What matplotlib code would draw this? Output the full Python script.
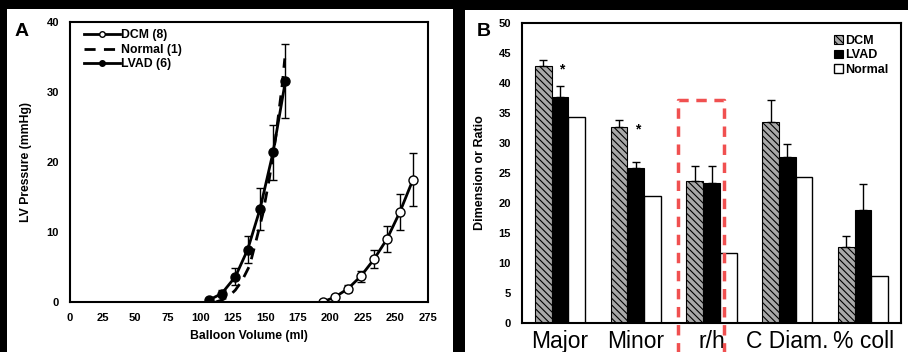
import matplotlib.pyplot as plt
import matplotlib.patches as mpatches
from matplotlib.lines import Line2D

plt.rcParams['font.family'] = ['Liberation Sans', 'DejaVu Sans']
plt.rcParams['hatch.linewidth'] = 0.8

# ---- panel A data: pressure-volume curves ----
dcm_vol = [194, 203.5, 213.5, 223.5, 233.5, 243.5, 253.5, 263.5]
dcm_p = [0.0, 0.7, 1.9, 3.7, 6.1, 9.0, 12.9, 17.5]
dcm_err = [0.2, 0.3, 0.5, 0.8, 1.3, 1.9, 2.6, 3.8]

lvad_vol = [106.5, 116.5, 127, 136.5, 146, 156, 165.5]
lvad_p = [0.25, 1.2, 3.6, 7.5, 13.3, 21.4, 31.6]
lvad_err = [0.2, 0.5, 1.2, 1.9, 3.0, 3.9, 5.3]

normal_vol = [112, 117, 122, 127, 132, 138, 143, 148, 153, 158, 163, 165]
normal_p = [0.0, 0.3, 0.8, 1.7, 3.0, 5.2, 8.8, 12.5, 17.5, 23.5, 31.0, 34.8]

# ---- panel B data: dimensions / ratios ----
groups = ['Major', 'Minor', 'r/h', 'C Diam.', '% coll']
dcm_vals = [42.9, 32.7, 23.6, 33.5, 12.6]
dcm_errs = [0.9, 1.2, 2.6, 3.6, 1.9]
lvad_vals = [37.6, 25.8, 23.3, 27.7, 18.8]
lvad_errs = [1.9, 1.0, 2.8, 2.1, 4.3]
normal_vals = [34.3, 21.2, 11.7, 24.4, 7.8]

W, H = 908, 352
fig = plt.figure(figsize=(W / 100, H / 100), dpi=100, facecolor='black')

# white panel backgrounds
fig.patches.append(mpatches.Rectangle((7 / W, 0), 446 / W, 343 / H, transform=fig.transFigure,
                                      facecolor='white', edgecolor='none', zorder=-10))
fig.patches.append(mpatches.Rectangle((465 / W, 0), 443 / W, 342 / H, transform=fig.transFigure,
                                      facecolor='white', edgecolor='none', zorder=-10))

# ================= panel A =================
axA = fig.add_axes([70 / W, 50 / H, 358 / W, 280 / H])
axA.plot(normal_vol, normal_p, color='black', lw=2, ls=(0, (4, 3)))
axA.errorbar(lvad_vol, lvad_p, yerr=lvad_err, color='black', lw=2, marker='o', ms=6.5,
             mfc='black', mec='black', capsize=3, elinewidth=1, capthick=1)
axA.errorbar(dcm_vol, dcm_p, yerr=dcm_err, color='black', lw=2, marker='o', ms=6.5,
             mfc='white', mec='black', mew=1, capsize=3, elinewidth=1, capthick=1)
axA.set_xlim(0, 275)
axA.set_ylim(0, 40)
axA.set_xticks(range(0, 276, 25))
axA.set_yticks([0, 10, 20, 30, 40])
axA.tick_params(length=0, pad=8)
for lab in axA.get_xticklabels() + axA.get_yticklabels():
    lab.set_fontsize(8)
    lab.set_fontweight('bold')
for s in axA.spines.values():
    s.set_linewidth(1.5)
axA.set_xlabel('Balloon Volume (ml)', fontsize=8.8, fontweight='bold', labelpad=5)
axA.set_ylabel('LV Pressure (mmHg)', fontsize=8.8, fontweight='bold', labelpad=10)

legA = [Line2D([], [], color='black', lw=2, marker='o', ms=4, mfc='white', mec='black'),
        Line2D([], [], color='black', lw=2, ls=(0, (4, 3))),
        Line2D([], [], color='black', lw=2, marker='o', ms=4, mfc='black')]
axA.legend(legA, ['DCM (8)', 'Normal (1)', 'LVAD (6)'], loc='upper left', frameon=False,
           prop=dict(size=8.8, weight='bold'), handlelength=2.9, handletextpad=0.1,
           labelspacing=0.2, borderaxespad=0.2, bbox_to_anchor=(0.02, 1.0))
fig.text(22 / W, 1 - 31 / H, 'A', fontsize=14, fontweight='bold', va='center', ha='center')

# ================= panel B =================
axB = fig.add_axes([522 / W, 29 / H, 379 / W, 300 / H])
x = list(range(len(groups)))
bw = 0.22
xd = [i - bw for i in x]
xn = [i + bw for i in x]
axB.bar(xd, dcm_vals, width=bw, facecolor='#a8a8a8', edgecolor='black', hatch='\\\\\\\\\\',
        lw=0.8, label='DCM')
axB.bar(x, lvad_vals, width=bw, color='black', edgecolor='black', lw=0.8, label='LVAD')
axB.bar(xn, normal_vals, width=bw, facecolor='white', edgecolor='black', lw=1, label='Normal')
axB.errorbar(xd, dcm_vals, yerr=[[0] * 5, dcm_errs], fmt='none', ecolor='black',
             elinewidth=1, capsize=3, capthick=1)
axB.errorbar(x, lvad_vals, yerr=[[0] * 5, lvad_errs], fmt='none', ecolor='black',
             elinewidth=1, capsize=3, capthick=1)
axB.text(0.03, 42.3, '*', fontsize=10, fontweight='bold', ha='center', va='center')
axB.text(1.03, 32.3, '*', fontsize=10, fontweight='bold', ha='center', va='center')

axB.set_xlim(-0.5, 4.5)
axB.set_ylim(0, 50)
axB.set_yticks(range(0, 51, 5))
axB.set_xticks(x)
axB.set_xticklabels(groups, fontsize=16.5)
axB.tick_params(axis='x', length=0, pad=5)
axB.tick_params(axis='y', length=0, pad=8)
for lab in axB.get_yticklabels():
    lab.set_fontsize(8)
    lab.set_fontweight('bold')
for s in axB.spines.values():
    s.set_linewidth(1.5)
axB.set_ylabel('Dimension or Ratio', fontsize=9, fontweight='bold', labelpad=9)
axB.legend(loc='upper right', frameon=False, prop=dict(size=9, weight='bold'),
           handlelength=0.7, handleheight=0.7, handletextpad=0.2, labelspacing=0.2,
           borderaxespad=0.3, bbox_to_anchor=(0.99, 0.99))

# red dashed highlight box around r/h
rx0, rx1, ry0, ry1 = 1.56, 2.165, -12, 37.2
axB.plot([rx0, rx0, rx1, rx1], [ry0, ry1, ry1, ry0], color='#f05050', lw=2.5,
         ls=(0, (3, 2.2)), clip_on=False, zorder=5)
fig.text(484 / W, 1 - 31 / H, 'B', fontsize=14, fontweight='bold', va='center', ha='center')

fig.savefig('out.png', dpi=100, facecolor='black')
